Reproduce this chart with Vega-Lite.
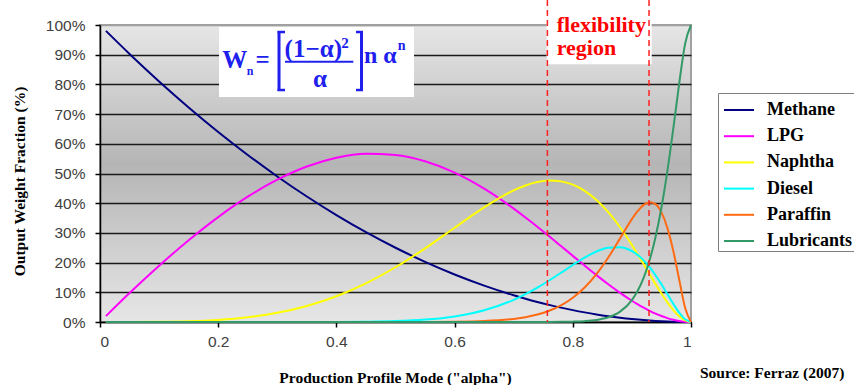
{
  "$schema": "https://vega.github.io/schema/vega-lite/v6.json",
  "width": 591,
  "height": 297,
  "autosize": {"type": "none"},
  "padding": {"left": 100, "top": 25, "right": 163, "bottom": 63},
  "background": "white",
  "config": {
    "view": {
      "fill": {"gradient": "linear", "x1": 0, "y1": 0, "x2": 0, "y2": 1, "stops": [
        {"offset": 0, "color": "#e6e6e6"},
        {"offset": 0.47, "color": "#b5b5b5"},
        {"offset": 1, "color": "#e6e6e6"}
      ]},
      "stroke": "#a0a0a0",
      "strokeWidth": 2
    },
    "axis": {
      "labelFont": "Liberation Sans",
      "labelFontSize": 15.5,
      "labelColor": "#404040",
      "labelOverlap": false,
      "titleFont": "Liberation Serif",
      "titleFontWeight": "bold",
      "titleColor": "black",
      "domainColor": "black",
      "domainWidth": 1.5,
      "tickColor": "black",
      "tickWidth": 1.5,
      "tickSize": 5
    }
  },
  "layer": [
    {
      "data": {"values": [
        {"alpha":0.01,"product":"Methane","fraction":0.9801},{"alpha":0.01,"product":"LPG","fraction":0.0199},{"alpha":0.01,"product":"Naphtha","fraction":0},{"alpha":0.01,"product":"Diesel","fraction":0},{"alpha":0.01,"product":"Paraffin","fraction":0},{"alpha":0.01,"product":"Lubricants","fraction":0},
        {"alpha":0.05,"product":"Methane","fraction":0.9025},{"alpha":0.05,"product":"LPG","fraction":0.0975},{"alpha":0.05,"product":"Naphtha","fraction":0},{"alpha":0.05,"product":"Diesel","fraction":0},{"alpha":0.05,"product":"Paraffin","fraction":0},{"alpha":0.05,"product":"Lubricants","fraction":0},
        {"alpha":0.1,"product":"Methane","fraction":0.81},{"alpha":0.1,"product":"LPG","fraction":0.1895},{"alpha":0.1,"product":"Naphtha","fraction":0.0005},{"alpha":0.1,"product":"Diesel","fraction":0},{"alpha":0.1,"product":"Paraffin","fraction":0},{"alpha":0.1,"product":"Lubricants","fraction":0},
        {"alpha":0.15,"product":"Methane","fraction":0.7225},{"alpha":0.15,"product":"LPG","fraction":0.2753},{"alpha":0.15,"product":"Naphtha","fraction":0.0022},{"alpha":0.15,"product":"Diesel","fraction":0},{"alpha":0.15,"product":"Paraffin","fraction":0},{"alpha":0.15,"product":"Lubricants","fraction":0},
        {"alpha":0.2,"product":"Methane","fraction":0.64},{"alpha":0.2,"product":"LPG","fraction":0.3533},{"alpha":0.2,"product":"Naphtha","fraction":0.0067},{"alpha":0.2,"product":"Diesel","fraction":0},{"alpha":0.2,"product":"Paraffin","fraction":0},{"alpha":0.2,"product":"Lubricants","fraction":0},
        {"alpha":0.25,"product":"Methane","fraction":0.5625},{"alpha":0.25,"product":"LPG","fraction":0.4219},{"alpha":0.25,"product":"Naphtha","fraction":0.0156},{"alpha":0.25,"product":"Diesel","fraction":0},{"alpha":0.25,"product":"Paraffin","fraction":0},{"alpha":0.25,"product":"Lubricants","fraction":0},
        {"alpha":0.3,"product":"Methane","fraction":0.49},{"alpha":0.3,"product":"LPG","fraction":0.4792},{"alpha":0.3,"product":"Naphtha","fraction":0.0308},{"alpha":0.3,"product":"Diesel","fraction":0},{"alpha":0.3,"product":"Paraffin","fraction":0},{"alpha":0.3,"product":"Lubricants","fraction":0},
        {"alpha":0.35,"product":"Methane","fraction":0.4225},{"alpha":0.35,"product":"LPG","fraction":0.5235},{"alpha":0.35,"product":"Naphtha","fraction":0.0539},{"alpha":0.35,"product":"Diesel","fraction":0.0001},{"alpha":0.35,"product":"Paraffin","fraction":0},{"alpha":0.35,"product":"Lubricants","fraction":0},
        {"alpha":0.4,"product":"Methane","fraction":0.36},{"alpha":0.4,"product":"LPG","fraction":0.553},{"alpha":0.4,"product":"Naphtha","fraction":0.0867},{"alpha":0.4,"product":"Diesel","fraction":0.0003},{"alpha":0.4,"product":"Paraffin","fraction":0},{"alpha":0.4,"product":"Lubricants","fraction":0},
        {"alpha":0.45,"product":"Methane","fraction":0.3025},{"alpha":0.45,"product":"LPG","fraction":0.5663},{"alpha":0.45,"product":"Naphtha","fraction":0.1301},{"alpha":0.45,"product":"Diesel","fraction":0.0011},{"alpha":0.45,"product":"Paraffin","fraction":0},{"alpha":0.45,"product":"Lubricants","fraction":0},
        {"alpha":0.5,"product":"Methane","fraction":0.25},{"alpha":0.5,"product":"LPG","fraction":0.5625},{"alpha":0.5,"product":"Naphtha","fraction":0.1843},{"alpha":0.5,"product":"Diesel","fraction":0.0031},{"alpha":0.5,"product":"Paraffin","fraction":0},{"alpha":0.5,"product":"Lubricants","fraction":0},
        {"alpha":0.55,"product":"Methane","fraction":0.2025},{"alpha":0.55,"product":"LPG","fraction":0.5413},{"alpha":0.55,"product":"Naphtha","fraction":0.2479},{"alpha":0.55,"product":"Diesel","fraction":0.0081},{"alpha":0.55,"product":"Paraffin","fraction":0.0002},{"alpha":0.55,"product":"Lubricants","fraction":0},
        {"alpha":0.6,"product":"Methane","fraction":0.16},{"alpha":0.6,"product":"LPG","fraction":0.503},{"alpha":0.6,"product":"Naphtha","fraction":0.3174},{"alpha":0.6,"product":"Diesel","fraction":0.0188},{"alpha":0.6,"product":"Paraffin","fraction":0.0008},{"alpha":0.6,"product":"Lubricants","fraction":0},
        {"alpha":0.65,"product":"Methane","fraction":0.1225},{"alpha":0.65,"product":"LPG","fraction":0.4491},{"alpha":0.65,"product":"Naphtha","fraction":0.386},{"alpha":0.65,"product":"Diesel","fraction":0.0393},{"alpha":0.65,"product":"Paraffin","fraction":0.0031},{"alpha":0.65,"product":"Lubricants","fraction":0},
        {"alpha":0.7,"product":"Methane","fraction":0.09},{"alpha":0.7,"product":"LPG","fraction":0.3818},{"alpha":0.7,"product":"Naphtha","fraction":0.4432},{"alpha":0.7,"product":"Diesel","fraction":0.0746},{"alpha":0.7,"product":"Paraffin","fraction":0.0104},{"alpha":0.7,"product":"Lubricants","fraction":0},
        {"alpha":0.72,"product":"Methane","fraction":0.0784},{"alpha":0.72,"product":"LPG","fraction":0.3519},{"alpha":0.72,"product":"Naphtha","fraction":0.4598},{"alpha":0.72,"product":"Diesel","fraction":0.0936},{"alpha":0.72,"product":"Paraffin","fraction":0.0163},{"alpha":0.72,"product":"Lubricants","fraction":0},
        {"alpha":0.74,"product":"Methane","fraction":0.0676},{"alpha":0.74,"product":"LPG","fraction":0.3207},{"alpha":0.74,"product":"Naphtha","fraction":0.4711},{"alpha":0.74,"product":"Diesel","fraction":0.1155},{"alpha":0.74,"product":"Paraffin","fraction":0.0251},{"alpha":0.74,"product":"Lubricants","fraction":0.0001},
        {"alpha":0.76,"product":"Methane","fraction":0.0576},{"alpha":0.76,"product":"LPG","fraction":0.2885},{"alpha":0.76,"product":"Naphtha","fraction":0.4761},{"alpha":0.76,"product":"Diesel","fraction":0.1398},{"alpha":0.76,"product":"Paraffin","fraction":0.0379},{"alpha":0.76,"product":"Lubricants","fraction":0.0002},
        {"alpha":0.78,"product":"Methane","fraction":0.0484},{"alpha":0.78,"product":"LPG","fraction":0.2557},{"alpha":0.78,"product":"Naphtha","fraction":0.4735},{"alpha":0.78,"product":"Diesel","fraction":0.1658},{"alpha":0.78,"product":"Paraffin","fraction":0.0562},{"alpha":0.78,"product":"Lubricants","fraction":0.0005},
        {"alpha":0.8,"product":"Methane","fraction":0.04},{"alpha":0.8,"product":"LPG","fraction":0.2227},{"alpha":0.8,"product":"Naphtha","fraction":0.4624},{"alpha":0.8,"product":"Diesel","fraction":0.192},{"alpha":0.8,"product":"Paraffin","fraction":0.0817},{"alpha":0.8,"product":"Lubricants","fraction":0.0012},
        {"alpha":0.82,"product":"Methane","fraction":0.0324},{"alpha":0.82,"product":"LPG","fraction":0.19},{"alpha":0.82,"product":"Naphtha","fraction":0.4417},{"alpha":0.82,"product":"Diesel","fraction":0.2168},{"alpha":0.82,"product":"Paraffin","fraction":0.1162},{"alpha":0.82,"product":"Lubricants","fraction":0.0029},
        {"alpha":0.84,"product":"Methane","fraction":0.0256},{"alpha":0.84,"product":"LPG","fraction":0.1579},{"alpha":0.84,"product":"Naphtha","fraction":0.411},{"alpha":0.84,"product":"Diesel","fraction":0.2374},{"alpha":0.84,"product":"Paraffin","fraction":0.1613},{"alpha":0.84,"product":"Lubricants","fraction":0.0069},
        {"alpha":0.86,"product":"Methane","fraction":0.0196},{"alpha":0.86,"product":"LPG","fraction":0.1271},{"alpha":0.86,"product":"Naphtha","fraction":0.3699},{"alpha":0.86,"product":"Diesel","fraction":0.2503},{"alpha":0.86,"product":"Paraffin","fraction":0.2173},{"alpha":0.86,"product":"Lubricants","fraction":0.0158},
        {"alpha":0.88,"product":"Methane","fraction":0.0144},{"alpha":0.88,"product":"LPG","fraction":0.0981},{"alpha":0.88,"product":"Naphtha","fraction":0.319},{"alpha":0.88,"product":"Diesel","fraction":0.2521},{"alpha":0.88,"product":"Paraffin","fraction":0.2816},{"alpha":0.88,"product":"Lubricants","fraction":0.0349},
        {"alpha":0.9,"product":"Methane","fraction":0.01},{"alpha":0.9,"product":"LPG","fraction":0.0715},{"alpha":0.9,"product":"Naphtha","fraction":0.2595},{"alpha":0.9,"product":"Diesel","fraction":0.2388},{"alpha":0.9,"product":"Paraffin","fraction":0.3464},{"alpha":0.9,"product":"Lubricants","fraction":0.0739},
        {"alpha":0.91,"product":"Methane","fraction":0.0081},{"alpha":0.91,"product":"LPG","fraction":0.0593},{"alpha":0.91,"product":"Naphtha","fraction":0.2274},{"alpha":0.91,"product":"Diesel","fraction":0.2254},{"alpha":0.91,"product":"Paraffin","fraction":0.374},{"alpha":0.91,"product":"Lubricants","fraction":0.1058},
        {"alpha":0.92,"product":"Methane","fraction":0.0064},{"alpha":0.92,"product":"LPG","fraction":0.048},{"alpha":0.92,"product":"Naphtha","fraction":0.1943},{"alpha":0.92,"product":"Diesel","fraction":0.2074},{"alpha":0.92,"product":"Paraffin","fraction":0.3944},{"alpha":0.92,"product":"Lubricants","fraction":0.1495},
        {"alpha":0.93,"product":"Methane","fraction":0.0049},{"alpha":0.93,"product":"LPG","fraction":0.0376},{"alpha":0.93,"product":"Naphtha","fraction":0.1608},{"alpha":0.93,"product":"Diesel","fraction":0.1846},{"alpha":0.93,"product":"Paraffin","fraction":0.4036},{"alpha":0.93,"product":"Lubricants","fraction":0.2085},
        {"alpha":0.94,"product":"Methane","fraction":0.0036},{"alpha":0.94,"product":"LPG","fraction":0.0283},{"alpha":0.94,"product":"Naphtha","fraction":0.1276},{"alpha":0.94,"product":"Diesel","fraction":0.1576},{"alpha":0.94,"product":"Paraffin","fraction":0.3967},{"alpha":0.94,"product":"Lubricants","fraction":0.2862},
        {"alpha":0.95,"product":"Methane","fraction":0.0025},{"alpha":0.95,"product":"LPG","fraction":0.0201},{"alpha":0.95,"product":"Naphtha","fraction":0.0958},{"alpha":0.95,"product":"Diesel","fraction":0.1269},{"alpha":0.95,"product":"Paraffin","fraction":0.3692},{"alpha":0.95,"product":"Lubricants","fraction":0.3855},
        {"alpha":0.96,"product":"Methane","fraction":0.0016},{"alpha":0.96,"product":"LPG","fraction":0.0132},{"alpha":0.96,"product":"Naphtha","fraction":0.0662},{"alpha":0.96,"product":"Diesel","fraction":0.0942},{"alpha":0.96,"product":"Paraffin","fraction":0.317},{"alpha":0.96,"product":"Lubricants","fraction":0.508},
        {"alpha":0.97,"product":"Methane","fraction":0.0009},{"alpha":0.97,"product":"LPG","fraction":0.0076},{"alpha":0.97,"product":"Naphtha","fraction":0.0402},{"alpha":0.97,"product":"Diesel","fraction":0.0613},{"alpha":0.97,"product":"Paraffin","fraction":0.2395},{"alpha":0.97,"product":"Lubricants","fraction":0.6506},
        {"alpha":0.98,"product":"Methane","fraction":0.0004},{"alpha":0.98,"product":"LPG","fraction":0.0034},{"alpha":0.98,"product":"Naphtha","fraction":0.0193},{"alpha":0.98,"product":"Diesel","fraction":0.0315},{"alpha":0.98,"product":"Paraffin","fraction":0.1431},{"alpha":0.98,"product":"Lubricants","fraction":0.8023},
        {"alpha":0.99,"product":"Methane","fraction":0.0001},{"alpha":0.99,"product":"LPG","fraction":0.001},{"alpha":0.99,"product":"Naphtha","fraction":0.0052},{"alpha":0.99,"product":"Diesel","fraction":0.0091},{"alpha":0.99,"product":"Paraffin","fraction":0.0482},{"alpha":0.99,"product":"Lubricants","fraction":0.9366},
        {"alpha":1.0,"product":"Methane","fraction":0},{"alpha":1.0,"product":"LPG","fraction":0},{"alpha":1.0,"product":"Naphtha","fraction":0},{"alpha":1.0,"product":"Diesel","fraction":0},{"alpha":1.0,"product":"Paraffin","fraction":0},{"alpha":1.0,"product":"Lubricants","fraction":1}
      ]},
      "mark": {"type": "line", "strokeWidth": 2, "interpolate": "monotone"},
      "encoding": {
        "x": {
          "field": "alpha", "type": "quantitative",
          "scale": {"domain": [0, 1], "nice": false, "zero": false},
          "axis": {
            "tickCount": 5,
            "format": "~g",
            "grid": false,
            "labelPadding": 7,
            "title": "Production Profile Mode (\"alpha\")",
            "titleFontSize": 15.5,
            "titleBaseline": "alphabetic",
            "titleX": 295,
            "titleY": 60
          }
        },
        "y": {
          "field": "fraction", "type": "quantitative",
          "scale": {"domain": [0, 1], "nice": false},
          "axis": {
            "tickCount": 10,
            "format": ".0%",
            "grid": true,
            "gridColor": {"condition": {"test": "datum.value > 0.999", "value": "#a0a0a0"}, "value": "#1a1a1a"},
            "gridWidth": 1.5,
            "labelPadding": 10,
            "title": "Output Weight Fraction (%)",
            "titleFontSize": 15.5,
            "titleAngle": -90,
            "titleAlign": "center",
            "titleBaseline": "alphabetic",
            "titleX": -76,
            "titleY": 156
          }
        },
        "color": {
          "field": "product", "type": "nominal",
          "scale": {
            "domain": ["Methane", "LPG", "Naphtha", "Diesel", "Paraffin", "Lubricants"],
            "range": ["#000080", "#ff00ff", "#ffff00", "#00ffff", "#ff6a13", "#339966"]
          },
          "legend": {
            "title": null,
            "orient": "none",
            "legendX": 618,
            "legendY": 68,
            "direction": "vertical",
            "fillColor": "white",
            "strokeColor": "#808080",
            "padding": 1,
            "rowPadding": 1.2,
            "symbolOffset": 4,
            "symbolType": "stroke",
            "symbolSize": 900,
            "symbolStrokeWidth": 2,
            "labelFont": "Liberation Serif",
            "labelFontWeight": "bold",
            "labelFontSize": 18,
            "labelColor": "black",
            "labelOffset": 12
          }
        }
      }
    },
    {
      "data": {"values": [{}]},
      "mark": {"type": "rect", "color": "white"},
      "encoding": {
        "x": {"datum": 0.2014, "type": "quantitative"},
        "x2": {"datum": 0.5313},
        "y": {"datum": 0.9933, "type": "quantitative"},
        "y2": {"datum": 0.7576}
      }
    },
    {
      "data": {"values": [{}]},
      "mark": {"type": "rect", "color": "white"},
      "encoding": {
        "x": {"datum": 0.7558, "type": "quantitative"},
        "x2": {"datum": 0.9335},
        "y": {"datum": 1.084, "type": "quantitative"},
        "y2": {"datum": 0.868}
      }
    },
    {
      "data": {"values": [{}]},
      "mark": {"type": "rule", "color": "#ff2020", "strokeWidth": 1.5, "strokeDash": [6, 4]},
      "encoding": {
        "x": {"datum": 0.757, "type": "quantitative"},
        "y": {"datum": 1.084, "type": "quantitative"},
        "y2": {"datum": 0}
      }
    },
    {
      "data": {"values": [{}]},
      "mark": {"type": "rule", "color": "#ff2020", "strokeWidth": 1.5, "strokeDash": [6, 4]},
      "encoding": {
        "x": {"datum": 0.929, "type": "quantitative"},
        "y": {"datum": 1.084, "type": "quantitative"},
        "y2": {"datum": 0}
      }
    },
    {
      "data": {"values": [{}]},
      "mark": {"type": "text", "text": "flexibility", "font": "Liberation Serif", "fontWeight": "bold", "fontSize": 22, "color": "#ff0000", "align": "left", "baseline": "alphabetic"},
      "encoding": {
        "x": {"datum": 0.7728, "type": "quantitative"},
        "y": {"datum": 0.9774, "type": "quantitative"}
      }
    },
    {
      "data": {"values": [{}]},
      "mark": {"type": "text", "text": "region", "font": "Liberation Serif", "fontWeight": "bold", "fontSize": 22, "color": "#ff0000", "align": "left", "baseline": "alphabetic"},
      "encoding": {
        "x": {"datum": 0.7728, "type": "quantitative"},
        "y": {"datum": 0.899, "type": "quantitative"}
      }
    },
    {
      "data": {"values": [{}]},
      "mark": {"type": "text", "text": "W", "font": "Liberation Serif", "fontWeight": "bold", "fontSize": 25, "color": "#2020ee", "align": "center", "baseline": "alphabetic"},
      "encoding": {
        "x": {"datum": 0.2279, "type": "quantitative"},
        "y": {"datum": 0.8562, "type": "quantitative"}
      }
    },
    {
      "data": {"values": [{}]},
      "mark": {"type": "text", "text": "n", "font": "Liberation Serif", "fontWeight": "bold", "fontSize": 12, "color": "#2020ee", "align": "center", "baseline": "alphabetic"},
      "encoding": {
        "x": {"datum": 0.2538, "type": "quantitative"},
        "y": {"datum": 0.8316, "type": "quantitative"}
      }
    },
    {
      "data": {"values": [{}]},
      "mark": {"type": "text", "text": "=", "font": "Liberation Serif", "fontWeight": "bold", "fontSize": 25, "color": "#2020ee", "align": "center", "baseline": "alphabetic"},
      "encoding": {
        "x": {"datum": 0.275, "type": "quantitative"},
        "y": {"datum": 0.8539, "type": "quantitative"}
      }
    },
    {
      "data": {"values": [{}]},
      "mark": {"type": "rule", "color": "#2020ee", "strokeWidth": 3},
      "encoding": {
        "x": {"datum": 0.3029, "type": "quantitative"},
        "y": {"datum": 0.9798, "type": "quantitative"},
        "y2": {"datum": 0.7778}
      }
    },
    {
      "data": {"values": [{}]},
      "mark": {"type": "rule", "color": "#2020ee", "strokeWidth": 2.5},
      "encoding": {
        "x": {"datum": 0.3004, "type": "quantitative"},
        "x2": {"datum": 0.3130},
        "y": {"datum": 0.9764, "type": "quantitative"}
      }
    },
    {
      "data": {"values": [{}]},
      "mark": {"type": "rule", "color": "#2020ee", "strokeWidth": 2.5},
      "encoding": {
        "x": {"datum": 0.3004, "type": "quantitative"},
        "x2": {"datum": 0.3130},
        "y": {"datum": 0.7811, "type": "quantitative"}
      }
    },
    {
      "data": {"values": [{}]},
      "mark": {"type": "rule", "color": "#2020ee", "strokeWidth": 3},
      "encoding": {
        "x": {"datum": 0.4425, "type": "quantitative"},
        "y": {"datum": 0.9798, "type": "quantitative"},
        "y2": {"datum": 0.7778}
      }
    },
    {
      "data": {"values": [{}]},
      "mark": {"type": "rule", "color": "#2020ee", "strokeWidth": 2.5},
      "encoding": {
        "x": {"datum": 0.4332, "type": "quantitative"},
        "x2": {"datum": 0.445},
        "y": {"datum": 0.9764, "type": "quantitative"}
      }
    },
    {
      "data": {"values": [{}]},
      "mark": {"type": "rule", "color": "#2020ee", "strokeWidth": 2.5},
      "encoding": {
        "x": {"datum": 0.4332, "type": "quantitative"},
        "x2": {"datum": 0.445},
        "y": {"datum": 0.7811, "type": "quantitative"}
      }
    },
    {
      "data": {"values": [{}]},
      "mark": {"type": "text", "text": "(1−α)", "font": "Liberation Serif", "fontWeight": "bold", "fontSize": 25, "color": "#2020ee", "align": "center", "baseline": "alphabetic"},
      "encoding": {
        "x": {"datum": 0.3609, "type": "quantitative"},
        "y": {"datum": 0.8912, "type": "quantitative"}
      }
    },
    {
      "data": {"values": [{}]},
      "mark": {"type": "text", "text": "2", "font": "Liberation Serif", "fontWeight": "bold", "fontSize": 15, "color": "#2020ee", "align": "center", "baseline": "alphabetic"},
      "encoding": {
        "x": {"datum": 0.4146, "type": "quantitative"},
        "y": {"datum": 0.9215, "type": "quantitative"}
      }
    },
    {
      "data": {"values": [{}]},
      "mark": {"type": "rule", "color": "#2020ee", "strokeWidth": 2},
      "encoding": {
        "x": {"datum": 0.313, "type": "quantitative"},
        "x2": {"datum": 0.4286},
        "y": {"datum": 0.8764, "type": "quantitative"}
      }
    },
    {
      "data": {"values": [{}]},
      "mark": {"type": "text", "text": "α", "font": "Liberation Serif", "fontWeight": "bold", "fontSize": 25, "color": "#2020ee", "align": "center", "baseline": "alphabetic"},
      "encoding": {
        "x": {"datum": 0.3723, "type": "quantitative"},
        "y": {"datum": 0.7912, "type": "quantitative"}
      }
    },
    {
      "data": {"values": [{}]},
      "mark": {"type": "text", "text": "n α", "font": "Liberation Serif", "fontWeight": "bold", "fontSize": 24, "color": "#2020ee", "align": "left", "baseline": "alphabetic"},
      "encoding": {
        "x": {"datum": 0.4467, "type": "quantitative"},
        "y": {"datum": 0.871, "type": "quantitative"}
      }
    },
    {
      "data": {"values": [{}]},
      "mark": {"type": "text", "text": "n", "font": "Liberation Serif", "fontWeight": "bold", "fontSize": 14, "color": "#2020ee", "align": "left", "baseline": "alphabetic"},
      "encoding": {
        "x": {"datum": 0.5037, "type": "quantitative"},
        "y": {"datum": 0.9158, "type": "quantitative"}
      }
    },
    {
      "data": {"values": [{}]},
      "mark": {"type": "text", "text": "Source: Ferraz (2007)", "font": "Liberation Serif", "fontWeight": "bold", "fontSize": 15.5, "color": "black", "align": "left", "baseline": "alphabetic"},
      "encoding": {
        "x": {"datum": 1.0152, "type": "quantitative"},
        "y": {"datum": -0.1886, "type": "quantitative"}
      }
    }
  ]
}
